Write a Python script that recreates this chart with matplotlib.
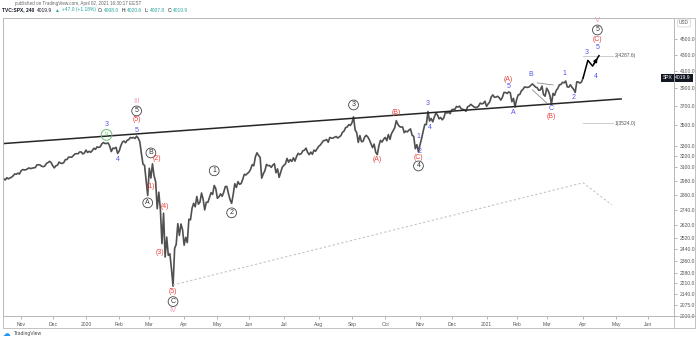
import numpy as np
import pandas as pd
import matplotlib
matplotlib.use('Agg')
import matplotlib.pyplot as plt
from matplotlib.patches import Rectangle
from matplotlib.lines import Line2D
from matplotlib.ticker import NullLocator

plt.rcParams['font.family'] = ['Liberation Sans', 'DejaVu Sans']

############################# DATOS ################################

# NYSE holidays (trading-time axis like TradingView, no gaps)
holidays = ['2019-11-28', '2019-12-25', '2020-01-01', '2020-01-20', '2020-02-17',
            '2020-04-10', '2020-05-25', '2020-07-03', '2020-09-07', '2020-11-26',
            '2020-12-25', '2021-01-01', '2021-01-18', '2021-02-15', '2021-04-02',
            '2021-05-31']

# SPX, one value per session from 2019-10-14 to 2021-04-01
close = [
    2966, 2995, 2990, 2998, 2986, 3006, 2996, 3004, 3010, 3023, 3039, 3036, 3047, 3038,  # oct 19
    3067, 3078, 3075, 3076, 3085, 3093, 3087, 3091, 3094, 3096, 3120, 3122, 3120, 3108, 3104, 3110, 3133, 3141, 3153, 3141,  # nov
    3113, 3093, 3113, 3117, 3146, 3136, 3133, 3142, 3169, 3169, 3191, 3192, 3191, 3205, 3221, 3224, 3223, 3240, 3240, 3221, 3231,  # dec
    3258, 3235, 3246, 3237, 3253, 3275, 3265, 3288, 3283, 3289, 3317, 3330, 3321, 3321, 3326, 3295, 3244, 3276, 3273, 3284, 3226,  # jan 20
    3249, 3298, 3334, 3345, 3328, 3352, 3358, 3379, 3374, 3380, 3370, 3393, 3373, 3338, 3226, 3128, 3116, 2979, 2855,  # feb
    3090, 3003, 3130, 3024, 2972, 2747, 2882, 2741, 2481, 2711, 2386, 2529, 2398, 2409, 2305, 2192, 2447, 2476, 2630, 2541, 2627, 2585,  # mar
    2470, 2527, 2489, 2664, 2659, 2750, 2790, 2762, 2846, 2783, 2800, 2875, 2823, 2737, 2799, 2798, 2837, 2878, 2863, 2939, 2912,  # apr
    2831, 2843, 2868, 2848, 2881, 2930, 2930, 2870, 2820, 2790, 2864, 2954, 2922, 2972, 2949, 2955, 2992, 3036, 3030, 3044,  # may
    3056, 3081, 3123, 3112, 3194, 3232, 3207, 3190, 3002, 3041, 3067, 3125, 3113, 3115, 3098, 3118, 3131, 3050, 3084, 3009, 3053, 3100,  # jun
    3116, 3130, 3180, 3145, 3169, 3152, 3185, 3155, 3197, 3227, 3216, 3225, 3251, 3257, 3276, 3236, 3215, 3239, 3218, 3258, 3246, 3271,  # jul
    3294, 3306, 3327, 3349, 3351, 3360, 3333, 3380, 3373, 3373, 3382, 3389, 3374, 3385, 3397, 3431, 3443, 3478, 3484, 3508, 3500,  # aug
    3527, 3588, 3455, 3427, 3331, 3398, 3339, 3341, 3383, 3401, 3385, 3357, 3319, 3281, 3315, 3237, 3215, 3298, 3351, 3335, 3363,  # sep
    3380, 3348, 3408, 3361, 3419, 3446, 3477, 3549, 3512, 3489, 3483, 3484, 3427, 3443, 3435, 3453, 3465, 3401, 3391, 3271, 3310, 3240,  # oct
    3310, 3370, 3443, 3510, 3509, 3645, 3545, 3572, 3537, 3585, 3627, 3610, 3568, 3582, 3558, 3577, 3636, 3629, 3638, 3622,  # nov
    3662, 3669, 3666, 3699, 3692, 3702, 3673, 3668, 3663, 3647, 3695, 3702, 3722, 3709, 3695, 3687, 3690, 3703, 3735, 3727, 3732, 3756,  # dec
    3700, 3726, 3748, 3804, 3825, 3799, 3801, 3810, 3795, 3768, 3798, 3852, 3853, 3841, 3859, 3849, 3751, 3787, 3694,  # jan 21
    3774, 3826, 3830, 3871, 3887, 3915, 3911, 3910, 3916, 3934, 3950, 3931, 3913, 3906, 3876, 3881, 3925, 3829, 3811,  # feb
    3901, 3870, 3820, 3723, 3842, 3821, 3875, 3898, 3939, 3943, 3968, 3962, 3983, 3915, 3913, 3940, 3910, 3889, 3853, 3974, 3971, 3959, 3973,  # mar
    4019.9,  # apr 1
]

# proyeccion (negra) de la onda 5
proj_dates = ['2021-04-01', '2021-04-07', '2021-04-12', '2021-04-16']
proj_price = [4019.9, 4230, 4160, 4287.6]

# linea de tendencia negra
trend_dates = ['2019-10-14', '2021-05-06']
trend_price = [3317, 3781]

# linea punteada gris
dot_dates = ['2020-03-23', '2021-04-01', '2021-04-28']
dot_price = [2200, 2962, 2778]

# canal gris pequeño feb-mar 2021
wedge_up_dates = ['2021-02-19', '2021-03-05']
wedge_up_price = [3961, 3938]
wedge_lo_dates = ['2021-02-16', '2021-03-01']
wedge_lo_price = [3881, 3737]

# niveles fibo
fib_levels = [4287.6, 3524.0]
fib_names = ['2(4287.6)', '1(3524.0)']
fib_dates = ['2021-04-01', '2021-04-29']

# etiquetas de ondas (texto, fecha, precio)
circle_labels = [('5', '2020-02-19', 3651), ('B', '2020-03-03', 3231), ('A', '2020-02-28', 2794),
                 ('C', '2020-03-23', 2096), ('1', '2020-04-29', 3067), ('2', '2020-05-14', 2714),
                 ('3', '2020-09-02', 3715), ('4', '2020-10-30', 3111), ('5', '2021-04-15', 4621)]
red_labels = [('(5)', '2020-02-19', 3557), ('(2)', '2020-03-09', 3176), ('(1)', '2020-03-03', 2927),
              ('(4)', '2020-03-16', 2762), ('(3)', '2020-03-11', 2416), ('(5)', '2020-03-23', 2157),
              ('(A)', '2020-09-24', 3166), ('(B)', '2020-10-12', 3630), ('(C)', '2020-10-30', 3185),
              ('(A)', '2021-01-25', 3995), ('(B)', '2021-03-04', 3588), ('(C)', '2021-04-15', 4501)]
blue_labels = [('3', '2020-01-22', 3506), ('4', '2020-01-31', 3166), ('5', '2020-02-19', 3445),
               ('1', '2020-10-30', 3385), ('2', '2020-11-02', 3241), ('3', '2020-11-09', 3726),
               ('4', '2020-11-10', 3475), ('5', '2021-01-25', 3915), ('A', '2021-01-28', 3630),
               ('B', '2021-02-12', 4054), ('C', '2021-03-04', 3672), ('1', '2021-03-16', 4077),
               ('2', '2021-03-24', 3792), ('3', '2021-04-06', 4322), ('4', '2021-04-14', 4030),
               ('5', '2021-04-15', 4385)]
pink_labels = [('III', '2020-02-19', 3748), ('IV', '2020-03-23', 2042), ('V', '2021-04-15', 4757)]
green_labels = [('v', '2020-01-22', 3405)]

y_ticks = [4500, 4300, 4100, 3900, 3700, 3500, 3300, 3200, 3100, 2980, 2860, 2740,
           2620, 2520, 2440, 2360, 2280, 2210, 2140, 2075, 2010]
months = pd.period_range('2019-11', '2021-06', freq='M')

############################# EJE DE TIEMPO ################################

days = pd.bdate_range('2019-10-14', '2021-06-30', freq='C', holidays=holidays)


def xi(d):
    return days.searchsorted(pd.Timestamp(d))


W, H = 696, 341
fig = plt.figure(figsize=(W / 100, H / 100), dpi=100)
ax = fig.add_axes([3 / W, 25 / H, 671 / W, 298 / H])

RED = '#e8413b'
BLUE = '#5252f2'
PINK = '#f59bbb'
GREEN = '#6cc070'
GRAY = '#555555'

############################# GRAFICA ################################

ax.plot(np.arange(len(close)), close, color='#505050', lw=1.2)

ax.plot([xi(d) for d in trend_dates], trend_price, color='#262626', lw=1.1)
ax.plot([xi(d) for d in dot_dates], dot_price, color='#c4c4c4', lw=0.8, ls=(0, (2, 2)))
ax.plot([xi(d) for d in wedge_up_dates], wedge_up_price, color='#8a8a8a', lw=0.6)
ax.plot([xi(d) for d in wedge_lo_dates], wedge_lo_price, color='#8a8a8a', lw=0.6)

for lev, name in zip(fib_levels, fib_names):
    ax.plot([xi(d) for d in fib_dates], [lev, lev], color='#c4c4c4', lw=0.6)
    ax.text(xi(fib_dates[1]) + 0.8, lev, name, fontsize=3.6, color=GRAY, va='center', ha='left')

px = [xi(d) for d in proj_dates]
ax.plot(px, proj_price, color='black', lw=1.1)
ax.annotate('', xy=(px[-1], proj_price[-1]), xytext=(px[-2], proj_price[-2]),
            arrowprops=dict(arrowstyle='-|>', color='black', lw=1.1, mutation_scale=5))

for t, d, p in circle_labels:
    ax.text(xi(d), p, t, fontsize=5, color='#333333', ha='center', va='center',
            bbox=dict(boxstyle='circle,pad=0.2', fc='white', ec='#444444', lw=0.6))
for t, d, p in green_labels:
    ax.text(xi(d), p, t, fontsize=4.8, color=GREEN, ha='center', va='center',
            bbox=dict(boxstyle='circle,pad=0.28', fc='none', ec=GREEN, lw=0.7))
for t, d, p in red_labels:
    ax.text(xi(d), p, t, fontsize=5, color=RED, ha='center', va='center')
for t, d, p in blue_labels:
    ax.text(xi(d), p, t, fontsize=5, color=BLUE, ha='center', va='center')
for t, d, p in pink_labels:
    ax.text(xi(d), p, t, fontsize=5.5, color=PINK, ha='center', va='center')

############################# EJES ################################

ax.set_yscale('log')
ax.set_ylim(2012, 4785)
ax.set_xlim(2.6, 426.4)

ax.yaxis.tick_right()
ax.set_yticks(y_ticks)
ax.set_yticklabels([f'{t:.1f}' for t in y_ticks])
ax.yaxis.set_minor_locator(NullLocator())
ax.tick_params(axis='y', length=2, width=0.5, color='#999999', labelsize=3.6,
               labelcolor=GRAY, pad=2)

ax.set_xticks([xi(m.start_time) for m in months])
ax.set_xticklabels([str(m.year) if m.month == 1 else m.strftime('%b') for m in months])
ax.tick_params(axis='x', length=2, width=0.5, color='#999999', labelsize=3.6,
               labelcolor=GRAY, pad=2)

for s in ax.spines.values():
    s.set_color('#b8b8b8')
    s.set_linewidth(0.6)

# etiqueta de precio actual
ax.text(1.0135, close[-1], f'{close[-1]:.1f}', transform=ax.get_yaxis_transform(),
        color='white', fontsize=3.6, ha='center', va='center', clip_on=False,
        bbox=dict(boxstyle='square,pad=0.35', fc='#131722', ec='none'))
ax.text(0.9905, close[-1], 'SPX', transform=ax.get_yaxis_transform(),
        color='white', fontsize=3.6, ha='center', va='center', clip_on=False,
        bbox=dict(boxstyle='square,pad=0.35', fc='#131722', ec='none'))

# marco exterior
fig.add_artist(Rectangle((3 / W, 13 / H), 692 / W, 310 / H, transform=fig.transFigure,
                         fill=False, ec='#b8b8b8', lw=0.6))
fig.add_artist(Line2D([3 / W, 695 / W], [25 / H, 25 / H], color='#b8b8b8', lw=0.6))
fig.add_artist(Line2D([674 / W, 674 / W], [13 / H, 323 / H], color='#b8b8b8', lw=0.6))

fig.text(684 / W, 1 - 23 / H, 'USD', fontsize=3.4, color=GRAY, ha='center', va='center',
         bbox=dict(boxstyle='round,pad=0.3', fc='white', ec='#cccccc', lw=0.5))

############################# CABECERA ################################

fig.text(15 / W, 1 - 4 / H, 'published on TradingView.com, April 02, 2021 16:30:17 EEST',
         fontsize=3.3, color='#666666', va='center')

teal = '#26a69a'
parts = [('4019.9', '#131722'), ('\u25b2', teal), ('+47.0 (+1.18%)', teal),
         ('O:', '#131722'), ('4008.0', teal), ('H:', '#131722'), ('4020.6', teal),
         ('L:', '#131722'), ('4007.8', teal), ('C:', '#131722'), ('4019.9', teal)]
t = fig.text(2 / W, 1 - 10 / H, 'TVC:SPX, 240', fontsize=3.5, color='#131722',
             weight='bold', va='center')
for i, (s, c) in enumerate(parts):
    gap = 0.6 if s[0].isdigit() and parts[i - 1][0].endswith(':') else 1.8
    t = ax.annotate(s, xy=(1, 0), xycoords=t, xytext=(gap, 0), textcoords='offset points',
                    fontsize=3.5, color=c, va='bottom', ha='left', annotation_clip=False)

fig.text(3 / W, 1 - 334 / H, '\u2601', fontsize=5.5, color='#2196f3', va='center',
         family=['DejaVu Sans'])
fig.text(14 / W, 1 - 334 / H, 'TradingView', fontsize=3.6, color='#444444', va='center')

fig.savefig('out.png', dpi=100)
